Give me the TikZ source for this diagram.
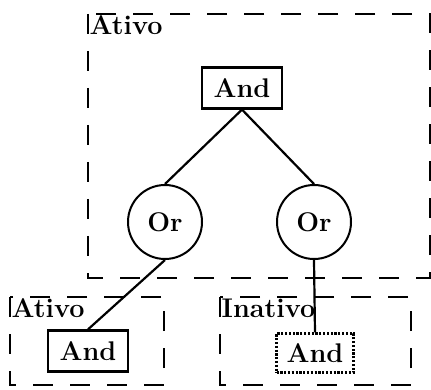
\documentclass[tikz,border=0pt]{standalone}
\begin{document}
\begin{tikzpicture}[x=1pt,y=-1pt,
  txt/.style={font=\fontsize{27}{30}\selectfont\bfseries},
  region/.style={draw, line width=2.4pt, dash pattern=on 20pt off 17pt},
  gatebox/.style={txt, draw, line width=2.2pt, minimum width=80pt, minimum height=41pt, inner sep=0pt},
  gatedot/.style={txt, draw, line width=2.2pt, dash pattern=on 2.2pt off 1.6pt, minimum width=77pt, minimum height=39pt, inner sep=0pt},
  orgate/.style={txt, draw, circle, line width=2pt, minimum size=74pt, inner sep=0pt},
  lbl/.style={txt, anchor=north west, inner sep=0.5pt, fill=white},
  edge/.style={line width=2.2pt}]
\useasboundingbox (0,0) rectangle (431,390);
% regions
\coordinate (r1a) at (88,14);
\coordinate (r1b) at (430,278);
\coordinate (r2a) at (10,297);
\coordinate (r2b) at (164,385);
\coordinate (r3a) at (220,297);
\coordinate (r3b) at (411,385);
\draw[region] (r1a) rectangle (r1b);
\draw[region] (r2a) rectangle (r2b);
\draw[region] (r3a) rectangle (r3b);
\node[lbl] (l1) at (89,15) {Ativo};
\node[lbl] (l2) at (11,298) {Ativo};
\node[lbl] (l3) at (221,298) {Inativo};
% nodes
\node[gatebox] (top) at (242,88) {And};
\node[orgate] (orL) at (165,222) {Or};
\node[orgate] (orR) at (314,222) {Or};
\node[gatebox] (bl) at (88,351) {And};
\node[gatedot] (br) at (315,353) {And};
% edges
\draw[edge] (top.south) -- (orL.north);
\draw[edge] (top.south) -- (orR.north);
\draw[edge] (orL.south) -- (bl.north);
\draw[edge] (orR.south) -- (br.north);
\end{tikzpicture}
\end{document}
